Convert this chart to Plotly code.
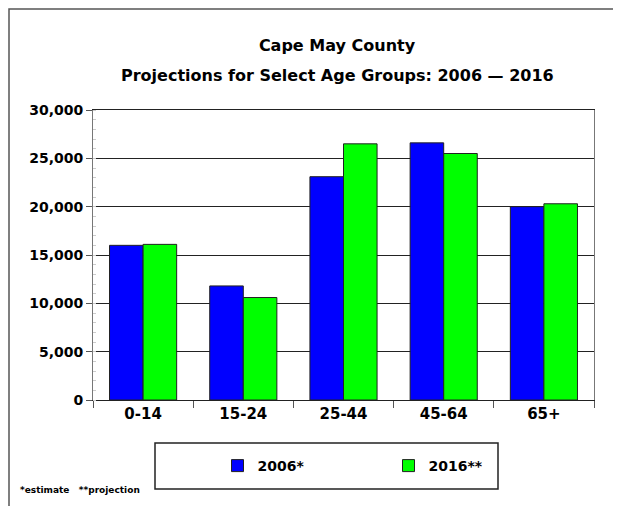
import plotly.graph_objects as go

age_groups = ["0-14", "15-24", "25-44", "45-64", "65+"]
pop_2006 = [16000, 11800, 23100, 26600, 20000]
pop_2016 = [16100, 10600, 26500, 25500, 20300]

FONT = "DejaVu Sans"

# plot area in page pixels: x 93..594, y 110..400 (page has an 8px body margin)
def px_x(x):
    return (x - 93) / 501

def px_y(y):
    return (400 - y) / 290

fig = go.Figure()
fig.add_trace(go.Bar(x=age_groups, y=pop_2006, name="2006*",
                     marker=dict(color="#0000FF", line=dict(color="#222222", width=1))))
fig.add_trace(go.Bar(x=age_groups, y=pop_2016, name="2016**",
                     marker=dict(color="#00FF00", line=dict(color="#222222", width=1))))

fig.update_layout(
    width=621, height=506,
    margin=dict(l=85, r=35, t=102, b=114),
    paper_bgcolor="white", plot_bgcolor="white",
    font=dict(family=FONT, color="black", weight="bold"),
    barmode="group", bargap=0.33, bargroupgap=0,
    title=dict(text="Cape May County",
               x=329 / 621, xanchor="center", y=1 - 37 / 506, yanchor="middle",
               font=dict(size=16, family=FONT, weight="bold")),
    showlegend=True,
    legend=dict(orientation="h", x=px_x(217.5), xanchor="left", y=px_y(466), yanchor="middle",
                borderwidth=0, bgcolor="rgba(0,0,0,0)",
                entrywidth=126, entrywidthmode="pixels",
                font=dict(size=14, family=FONT, weight="bold")),
)

fig.add_annotation(text="Projections for Select Age Groups: 2006 \u2014 2016",
                   xref="paper", yref="paper", x=px_x(337), y=px_y(75),
                   xanchor="center", yanchor="middle", showarrow=False,
                   font=dict(size=16, family=FONT, weight="bold"))

fig.update_xaxes(showline=True, linecolor="#222222", linewidth=1, mirror=True,
                 ticks="outside", tickson="boundaries", ticklen=7, tickcolor="#555555",
                 tickfont=dict(size=15, family=FONT, weight="bold"), showgrid=False)
fig.update_yaxes(range=[0, 30000], dtick=5000, tickformat=",",
                 showline=True, linecolor="#777777", linewidth=1, mirror=True,
                 ticks="outside", ticklen=6, tickcolor="#555555",
                 showgrid=True, gridcolor="#222222", gridwidth=1,
                 minor=dict(ticks="inside", ticklen=3, tickcolor="#cccccc", dtick=1000),
                 tickfont=dict(size=14, family=FONT, weight="bold"))

# outer frame (cropped on right and bottom in the original)
fig.add_shape(type="rect", xref="paper", yref="paper",
              x0=px_x(9), x1=px_x(640), y0=px_y(530), y1=px_y(9),
              line=dict(color="#555555", width=1.5), layer="below")

# legend box
fig.add_shape(type="rect", xref="paper", yref="paper",
              x0=px_x(155), x1=px_x(498), y0=px_y(489), y1=px_y(443),
              line=dict(color="#222222", width=1.5), fillcolor="white", layer="below")

fig.add_annotation(text="*estimate   **projection", xref="paper", yref="paper",
                   x=px_x(18), y=px_y(490), xanchor="left", yanchor="middle",
                   showarrow=False, font=dict(size=9, family=FONT, weight="bold"))

fig.write_html("out.html")
